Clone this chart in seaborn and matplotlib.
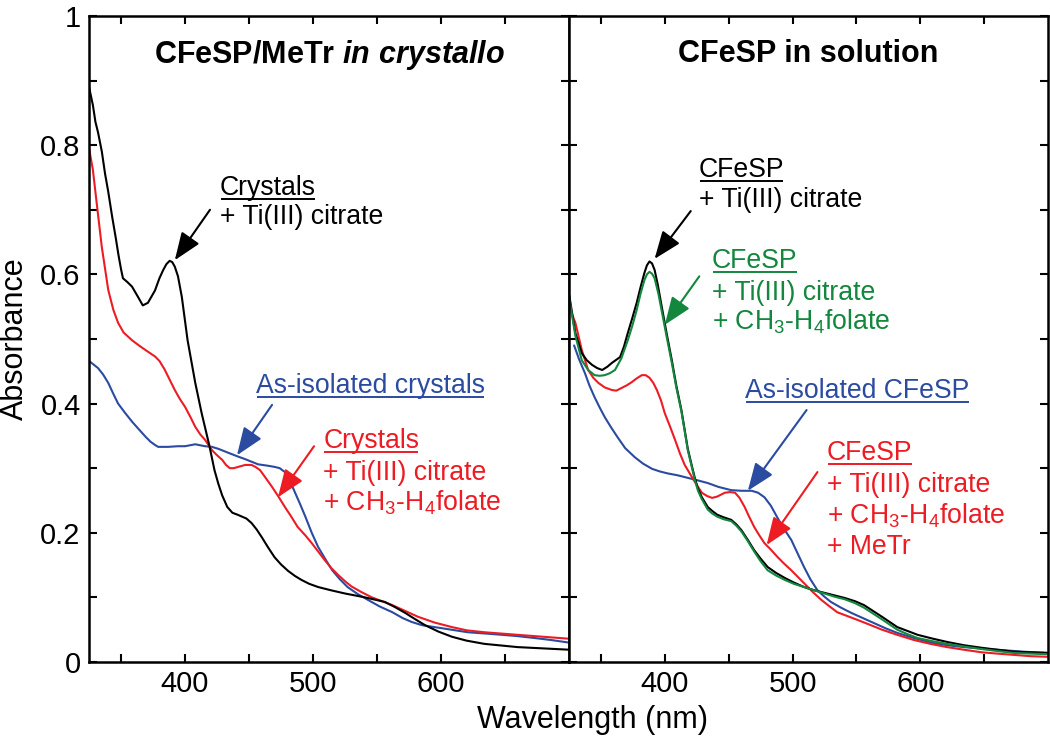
import numpy as np
import pandas as pd
import matplotlib
matplotlib.use("Agg")
import matplotlib.pyplot as plt
import seaborn as sns

# ---- data (wavelength nm, absorbance) ----
# left panel: crystals
cry_ti_wl = [325, 328, 330, 332, 335, 337.5, 340, 343, 346, 348, 350, 351.5, 355, 358.6, 363, 367, 371, 376.5, 380, 383,
             385.5, 388, 390, 392, 394.5, 397.5, 402, 408, 413, 419, 423, 426, 429, 433, 437, 441, 444.5, 448, 452,
             456, 460, 465, 470, 475, 480.5, 486, 491, 497, 504, 514, 525, 540.6, 556, 564, 572, 580, 587.5, 598,
             608.6, 620, 634, 660, 680, 700]
cry_ti_abs = [0.89, 0.862, 0.836, 0.820, 0.790, 0.756, 0.728, 0.690, 0.655, 0.630, 0.608, 0.594, 0.588, 0.581, 0.566, 0.552,
              0.556, 0.575, 0.594, 0.607, 0.616, 0.621, 0.619, 0.612, 0.597, 0.565, 0.498, 0.432, 0.385, 0.335, 0.297,
              0.276, 0.258, 0.240, 0.231, 0.228, 0.225, 0.222, 0.215, 0.205, 0.193, 0.177, 0.162, 0.151, 0.141, 0.133,
              0.127, 0.121, 0.116, 0.111, 0.106, 0.100, 0.093, 0.085, 0.076, 0.066, 0.057, 0.047, 0.039, 0.033, 0.028,
              0.023, 0.021, 0.019]

cry_fol_wl = [325, 328, 331, 335, 340, 344, 347.7, 352, 358.6, 364, 369, 376.5, 380, 384, 388, 392, 396, 400, 404,
              408, 412, 415.6, 421, 425, 429, 432, 435, 438, 441.5, 447, 452, 455, 458.6, 463, 468, 473, 478, 483, 488,
              494, 499, 504, 509, 514, 519.5, 525, 530, 538, 546, 554, 562, 572, 582, 595, 608.6, 620, 634, 647, 660,
              680, 700]
cry_fol_abs = [0.795, 0.762, 0.710, 0.642, 0.576, 0.545, 0.525, 0.510, 0.498, 0.490, 0.483, 0.473, 0.466, 0.453, 0.437, 0.421,
               0.407, 0.395, 0.380, 0.364, 0.352, 0.344, 0.328, 0.320, 0.313, 0.305, 0.300, 0.300, 0.302, 0.305, 0.305,
               0.302, 0.297, 0.285, 0.271, 0.256, 0.240, 0.225, 0.209, 0.196, 0.184, 0.171, 0.158, 0.146, 0.135, 0.125,
               0.117, 0.108, 0.100, 0.094, 0.088, 0.079, 0.070, 0.061, 0.054, 0.049, 0.046, 0.044, 0.042, 0.039, 0.036]

cry_iso_wl = [325, 332, 336, 340, 344, 347.7, 353, 358.6, 364, 369, 373, 376.5, 379, 386.7, 394.5, 400, 408, 415.6,
              421, 426, 433.6, 441.4, 447, 452, 457, 464, 470, 474, 478, 482, 486, 490, 494, 499, 504, 510, 515, 521,
              527, 535, 543, 552, 562, 570, 577, 585, 595, 608, 621, 635, 648, 660, 673.5, 686, 700]
cry_iso_abs = [0.466, 0.455, 0.445, 0.432, 0.415, 0.400, 0.386, 0.372, 0.360, 0.349, 0.341, 0.336, 0.333, 0.333, 0.334, 0.334,
               0.337, 0.334, 0.333, 0.330, 0.324, 0.318, 0.314, 0.310, 0.306, 0.304, 0.302, 0.300, 0.294, 0.280, 0.262,
               0.244, 0.225, 0.200, 0.178, 0.158, 0.142, 0.128, 0.116, 0.105, 0.096, 0.086, 0.077, 0.068, 0.062, 0.057,
               0.054, 0.050, 0.046, 0.044, 0.042, 0.040, 0.037, 0.034, 0.030]

# right panel: solution
sol_ti_wl = [325, 330, 335, 339, 343, 347, 351, 355, 358.6, 365, 368, 371, 374.5, 378, 381, 384, 386, 388, 390, 392,
             394.5, 397.6, 401.5, 405.5, 409, 413, 418, 421, 423.5, 426, 429, 433.6, 437, 441, 446, 452, 456, 460,
             465, 470, 475, 480.5, 487, 494, 501, 509, 517, 525, 533, 541, 549, 556, 563, 570, 576, 582, 590, 598,
             610, 621, 634, 648, 660, 673, 686, 700]
sol_ti_abs = [0.57, 0.509, 0.478, 0.467, 0.460, 0.455, 0.452, 0.457, 0.463, 0.472, 0.488, 0.509, 0.532, 0.556, 0.580, 0.602,
              0.614, 0.620, 0.617, 0.607, 0.584, 0.550, 0.508, 0.467, 0.428, 0.390, 0.330, 0.305, 0.285, 0.268, 0.255,
              0.240, 0.234, 0.228, 0.224, 0.220, 0.213, 0.204, 0.189, 0.173, 0.160, 0.147, 0.138, 0.130, 0.123, 0.116,
              0.111, 0.107, 0.103, 0.099, 0.094, 0.088, 0.079, 0.070, 0.062, 0.054, 0.048, 0.042, 0.036, 0.031, 0.026,
              0.022, 0.019, 0.016, 0.015, 0.014]

sol_fol_wl = [325, 330, 335, 340, 345, 349, 353, 357, 361, 366, 371, 374.5, 378, 381, 384, 386, 388, 390, 392, 395,
              398.5, 402, 405.5, 409, 413, 418, 421, 423.5, 426, 429, 433.6, 437, 441, 446, 452, 456, 460, 465, 470,
              475, 480.5, 487, 494, 501, 509, 517, 525, 533, 541, 549, 556, 563, 570, 576, 582, 590, 598, 610, 621,
              634, 648, 660, 673, 686, 700]
sol_fol_abs = [0.565, 0.505, 0.467, 0.452, 0.444, 0.443, 0.444, 0.447, 0.452, 0.470, 0.498, 0.520, 0.545, 0.570, 0.591, 0.600,
               0.604, 0.601, 0.594, 0.570, 0.534, 0.498, 0.463, 0.425, 0.388, 0.328, 0.303, 0.282, 0.265, 0.252, 0.236,
               0.230, 0.225, 0.221, 0.218, 0.211, 0.202, 0.187, 0.171, 0.156, 0.142, 0.134, 0.127, 0.121, 0.116, 0.111,
               0.106, 0.101, 0.097, 0.091, 0.084, 0.075, 0.066, 0.058, 0.050, 0.043, 0.037, 0.032, 0.028, 0.024, 0.020,
               0.017, 0.014, 0.013, 0.012]

sol_metr_wl = [327, 330, 335, 340, 344, 348, 353, 358.6, 362, 366, 370, 374, 378, 382, 385, 388, 391, 393.8, 397, 400,
               404, 408, 412, 415.6, 421, 425, 429, 433, 437, 441, 444, 447, 451, 455, 458.5, 462.5, 466, 470, 474,
               478, 483, 488, 493, 499, 504, 509, 516, 522.6, 529, 535, 543, 551, 560, 570, 582, 595, 608, 621, 634,
               648, 660, 673, 686, 700]
sol_metr_abs = [0.54, 0.525, 0.483, 0.452, 0.440, 0.432, 0.425, 0.421, 0.420, 0.424, 0.428, 0.433, 0.439, 0.444, 0.444, 0.440,
                0.432, 0.421, 0.405, 0.385, 0.365, 0.344, 0.322, 0.305, 0.287, 0.274, 0.262, 0.257, 0.254, 0.256, 0.259,
                0.262, 0.263, 0.262, 0.254, 0.240, 0.225, 0.209, 0.196, 0.184, 0.174, 0.163, 0.153, 0.142, 0.132, 0.122,
                0.108, 0.096, 0.086, 0.077, 0.071, 0.065, 0.058, 0.050, 0.042, 0.034, 0.028, 0.023, 0.019, 0.015, 0.013,
                0.011, 0.009, 0.008]

sol_iso_wl = [329, 333, 337.5, 341, 345, 349, 353, 358, 363, 369, 376.5, 383, 390, 396, 402, 410, 418, 426, 433.6,
              442, 452, 460, 468, 473, 478, 483, 488, 493, 499, 504, 509, 514, 519.5, 525, 530, 538, 546, 555, 564,
              573, 582, 595, 608.6, 621, 634, 647, 660, 680, 700]
sol_iso_abs = [0.49, 0.468, 0.447, 0.428, 0.410, 0.394, 0.379, 0.363, 0.348, 0.331, 0.317, 0.307, 0.299, 0.295, 0.292, 0.289,
               0.285, 0.281, 0.277, 0.271, 0.266, 0.265, 0.265, 0.262, 0.255, 0.242, 0.224, 0.207, 0.189, 0.168, 0.147,
               0.128, 0.111, 0.101, 0.093, 0.084, 0.076, 0.068, 0.060, 0.052, 0.045, 0.037, 0.030, 0.026, 0.023, 0.021,
               0.019, 0.016, 0.014]

x_ticks = [350, 400, 450, 500, 550, 600, 650]
x_labels = ["", "400", "", "500", "", "600", ""]
y_ticks = [0, 0.1, 0.2, 0.3, 0.4, 0.5, 0.6, 0.7, 0.8, 0.9, 1.0]
y_labels = ["0", "", "0.2", "", "0.4", "", "0.6", "", "0.8", "", "1"]

BLACK = "#000000"
RED = "#ED1C24"
BLUE = "#2B4BA0"
GREEN = "#12873D"

sns.set_theme(style="ticks")
plt.rcParams["font.family"] = ["Liberation Sans", "DejaVu Sans"]
plt.rcParams["text.color"] = "black"
plt.rcParams["mathtext.fontset"] = "custom"
plt.rcParams["mathtext.rm"] = "Liberation Sans"
plt.rcParams["mathtext.it"] = "Liberation Sans:italic:bold"
plt.rcParams["mathtext.bf"] = "Liberation Sans:bold"

fig = plt.figure(figsize=(10.5, 7.37), dpi=100)
ax1 = fig.add_axes([0.0848, 0.1018, 0.4571, 0.8765])
ax2 = fig.add_axes([0.5419, 0.1018, 0.4562, 0.8765], sharey=ax1)

for wl, ab, c in [(cry_iso_wl, cry_iso_abs, BLUE), (cry_fol_wl, cry_fol_abs, RED), (cry_ti_wl, cry_ti_abs, BLACK)]:
    sns.lineplot(x=wl, y=ab, color=c, lw=1.5, ax=ax1, estimator=None, sort=False, legend=False)

for wl, ab, c in [(sol_iso_wl, sol_iso_abs, BLUE), (sol_metr_wl, sol_metr_abs, RED),
                  (sol_ti_wl, sol_ti_abs, BLACK), (sol_fol_wl, sol_fol_abs, GREEN)]:
    sns.lineplot(x=wl, y=ab, color=c, lw=1.5, ax=ax2, estimator=None, sort=False, legend=False)

for ax in (ax1, ax2):
    ax.set_xlim(325, 700)
    ax.set_ylim(0, 1)
    ax.set_xticks(x_ticks)
    ax.set_xticklabels(x_labels)
    ax.set_yticks(y_ticks)
    ax.set_yticklabels(y_labels)
    ax.tick_params(direction="in", top=True, right=True, length=6, width=1.5,
                   labelsize=21, pad=6, colors="black")
    for sp in ax.spines.values():
        sp.set_visible(True)
        sp.set_linewidth(1.8)
        sp.set_color("black")
    ax.set_xlabel("")
    ax.set_ylabel("")
ax2.tick_params(labelleft=False)

ax1.text(512.5, 0.927, r"CFeSP/MeTr $\mathit{in\ crystallo}$", ha="center", va="baseline",
         fontsize=22, fontweight="bold", color="black")
ax2.text(512.5, 0.929, "CFeSP in solution", ha="center", va="baseline",
         fontsize=22, fontweight="bold", color="black")

fig.text(0.564, 0.012, "Wavelength (nm)", ha="center", va="baseline", fontsize=22)
fig.text(0.0, 0.54, "Absorbance", rotation=90, ha="left", va="center", fontsize=22)

FS = 19.2
under = []


def label(ax, x, ys, lines, color, underline_first=True):
    for i, (y, s) in enumerate(zip(ys, lines)):
        t = ax.text(x, y, s, color=color, fontsize=FS, ha="left", va="baseline")
        if i == 0 and underline_first:
            under.append((ax, t, x, y, color))


def arrow(ax, start, end, color):
    ax.annotate("", xy=end, xytext=start,
                arrowprops=dict(arrowstyle="-|>,head_length=0.85,head_width=0.33", color=color,
                                lw=1.5, shrinkA=0, shrinkB=0, mutation_scale=20))


fol = r"+ CH$_3$-H$_4$folate"

label(ax1, 427, [0.723, 0.678], ["Crystals", "+ Ti(III) citrate"], BLACK)
arrow(ax1, (419.5, 0.70), (392, 0.622), BLACK)
label(ax1, 455.5, [0.416], ["As-isolated crystals"], BLUE)
arrow(ax1, (468, 0.398), (440.6, 0.320), BLUE)
label(ax1, 508, [0.331, 0.282, 0.234], ["Crystals", "+ Ti(III) citrate", fol], RED)
arrow(ax1, (500.8, 0.334), (472.6, 0.255), RED)

label(ax2, 426.6, [0.751, 0.704], ["CFeSP", "+ Ti(III) citrate"], BLACK)
arrow(ax2, (420.3, 0.698), (392, 0.624), BLACK)
label(ax2, 437, [0.610, 0.560, 0.514], ["CFeSP", "+ Ti(III) citrate", fol], GREEN)
arrow(ax2, (427, 0.597), (400, 0.522), GREEN)
label(ax2, 463, [0.409], ["As-isolated CFeSP"], BLUE)
arrow(ax2, (511, 0.39), (465, 0.265), BLUE)
label(ax2, 527, [0.313, 0.263, 0.215, 0.167], ["CFeSP", "+ Ti(III) citrate", fol, "+ MeTr"], RED)
arrow(ax2, (519.5, 0.294), (479.7, 0.181), RED)

# underline the first line of each note, sized from the rendered text
fig.canvas.draw()
renderer = fig.canvas.get_renderer()
for ax, t, x, y, c in under:
    bb = t.get_window_extent(renderer)
    inv = ax.transData.inverted()
    base = ax.transData.transform((x, y))[1]
    x0, yu = inv.transform((bb.x0 + 1, base - 4))
    x1, _ = inv.transform((bb.x1 - 1, base - 4))
    ax.plot([x0, x1], [yu, yu], color=c, lw=1.4, solid_capstyle="butt")

fig.savefig("out.png", dpi=100)
